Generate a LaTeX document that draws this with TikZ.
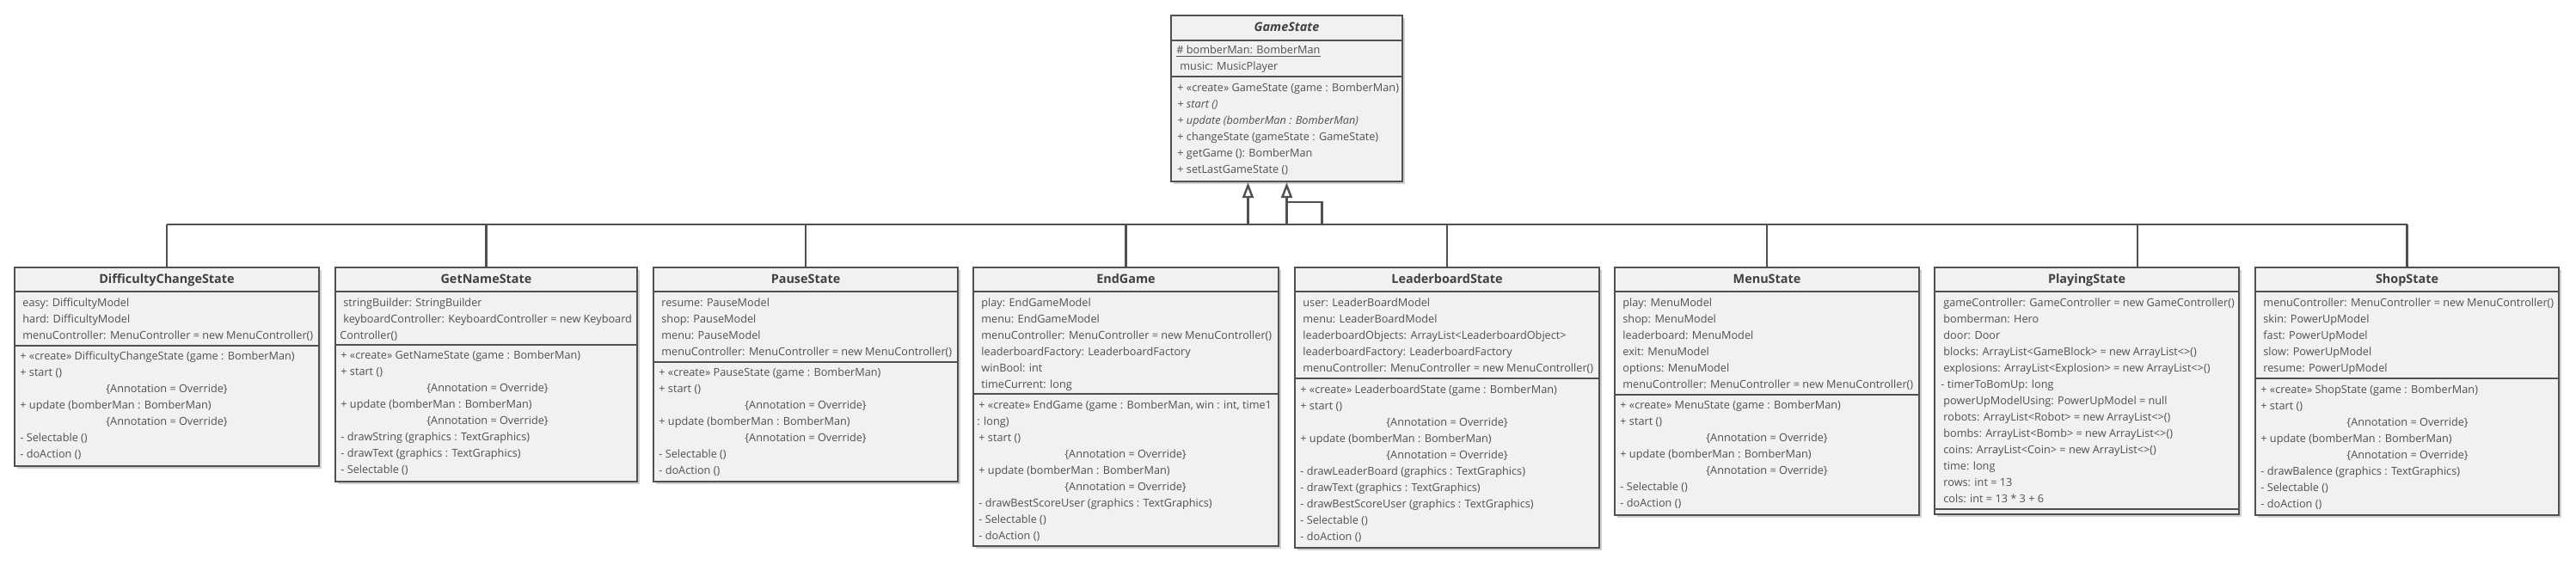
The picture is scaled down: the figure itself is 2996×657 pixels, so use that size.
\documentclass[tikz,border=0pt]{standalone}
\usepackage{fontspec}
\setmainfont{Open Sans}
\usetikzlibrary{arrows.meta,shadows,fit}
\definecolor{boxfill}{HTML}{F1F1F1}
\definecolor{boxline}{HTML}{505050}
\definecolor{txtc}{HTML}{505050}
\definecolor{ttlc}{HTML}{404040}
\newcommand\ann{\hspace*{50pt}\{Annotation = Override\}}
\newcommand\txtlines[4]{%
  \foreach \t [count=\i from 0] in {#4}
    \node[txt] (#1\i) at ({#2},{#3+4.5+19*\i}) {\t};}
\newcommand\classbox[6]{%
  \node[cls, fit={(#2,311) (#3,#4)}] (#1) {};
  \draw[sepl] (#2,339) -- (#3,339) (#2,#5) -- (#3,#5);
  \node[ttl] (#1t) at ({(#2+#3)/2},330) {#6};}
\tikzset{
  cls/.style={draw=boxline, line width=1.2pt, fill=boxfill, inner sep=0pt,
    drop shadow={shadow xshift=1.6pt, shadow yshift=-1.6pt, opacity=0.18, fill=black}},
  sepl/.style={draw=boxline, line width=1.2pt},
  txt/.style={anchor=base west, inner sep=0pt, text=txtc, font=\fontsize{6.35pt}{9.5pt}\selectfont},
  ttl/.style={anchor=base, inner sep=0pt, text=ttlc, font=\bfseries\fontsize{7.2pt}{9pt}\selectfont},
  conn/.style={draw=boxline, line width=1.2pt},
  gen/.style={conn, -{Triangle[length=9pt,width=6.5pt,fill=white]}}
}
\begin{document}
\begin{tikzpicture}[x=0.5pt,y=-0.5pt]
\useasboundingbox (0,0) rectangle (2996,657);
\fill[white] (0,0) rectangle (2996,657);
% GameState
\node[cls, fit={(1362,18) (1631,211)}] (gs) {};
\draw[sepl] (1362,47) -- (1631,47) (1362,89) -- (1631,89);
\node[ttl, font=\bfseries\itshape\fontsize{7.2pt}{9pt}\selectfont] (gst) at (1496.5,37) {GameState};
\node[txt] (gsa0) at (1368,62.5) {\underline{\# bomberMan: BomberMan}};
\node[txt] (gsa1) at (1372,81.5) {music: MusicPlayer};
\txtlines{gsm}{1369}{102}{{+ «create» GameState (game : BomberMan)},{\itshape + start ()},{\itshape + update (bomberMan : BomberMan)},{+ changeState (gameState : GameState)},{+ getGame (): BomberMan},{+ setLastGameState ()}}
% DifficultyChangeState
\classbox{dcs}{17}{371}{542}{402}{DifficultyChangeState}
\txtlines{dcsa}{26}{352}{{easy: DifficultyModel},{hard: DifficultyModel},{menuController: MenuController = new MenuController()}}
\txtlines{dcsm}{23}{414}{{+ «create» DifficultyChangeState (game : BomberMan)},{+ start ()},{\ann},{+ update (bomberMan : BomberMan)},{\ann},{- Selectable ()},{- doAction ()}}
% GetNameState
\classbox{gns}{390}{741}{560}{401}{GetNameState}
\txtlines{gnsa}{399}{352}{{stringBuilder: StringBuilder},{keyboardController: KeyboardController = new Keyboard},{\hspace*{-2pt}Controller()}}
\txtlines{gnsm}{396}{413}{{+ «create» GetNameState (game : BomberMan)},{+ start ()},{\ann},{+ update (bomberMan : BomberMan)},{\ann},{- drawString (graphics : TextGraphics)},{- drawText (graphics : TextGraphics)},{- Selectable ()}}
% PauseState
\classbox{pse}{760}{1114}{560}{421}{PauseState}
\txtlines{psea}{769}{352}{{resume: PauseModel},{shop: PauseModel},{menu: PauseModel},{menuController: MenuController = new MenuController()}}
\txtlines{psem}{766}{433}{{+ «create» PauseState (game : BomberMan)},{+ start ()},{\ann},{+ update (bomberMan : BomberMan)},{\ann},{- Selectable ()},{- doAction ()}}
% EndGame
\classbox{eg}{1132}{1487}{635}{458}{EndGame}
\txtlines{ega}{1141}{352}{{play: EndGameModel},{menu: EndGameModel},{menuController: MenuController = new MenuController()},{leaderboardFactory: LeaderboardFactory},{winBool: int},{timeCurrent: long}}
\txtlines{egm}{1138}{471}{{+ «create» EndGame (game : BomberMan, win : int, time1},{\hspace*{-1pt}: long)},{+ start ()},{\ann},{+ update (bomberMan : BomberMan)},{\ann},{- drawBestScoreUser (graphics : TextGraphics)},{- Selectable ()},{- doAction ()}}
% LeaderboardState
\classbox{lbs}{1506}{1860}{637}{440}{LeaderboardState}
\txtlines{lbsa}{1515}{352}{{user: LeaderBoardModel},{menu: LeaderBoardModel},{leaderboardObjects: ArrayList<LeaderboardObject>},{leaderboardFactory: LeaderboardFactory},{menuController: MenuController = new MenuController()}}
\txtlines{lbsm}{1512}{453}{{+ «create» LeaderboardState (game : BomberMan)},{+ start ()},{\ann},{+ update (bomberMan : BomberMan)},{\ann},{- drawLeaderBoard (graphics : TextGraphics)},{- drawText (graphics : TextGraphics)},{- drawBestScoreUser (graphics : TextGraphics)},{- Selectable ()},{- doAction ()}}
% MenuState
\classbox{mns}{1878}{2232}{599}{459}{MenuState}
\txtlines{mnsa}{1887}{352}{{play: MenuModel},{shop: MenuModel},{leaderboard: MenuModel},{exit: MenuModel},{options: MenuModel},{menuController: MenuController = new MenuController()}}
\txtlines{mnsm}{1884}{471}{{+ «create» MenuState (game : BomberMan)},{+ start ()},{\ann},{+ update (bomberMan : BomberMan)},{\ann},{- Selectable ()},{- doAction ()}}
% PlayingState
\classbox{pls}{2250}{2604}{598}{592}{PlayingState}
\txtlines{plsa}{2260}{352}{{gameController: GameController = new GameController()},{bomberman: Hero},{door: Door},{blocks: ArrayList<GameBlock> = new ArrayList<>()},{explosions: ArrayList<Explosion> = new ArrayList<>()},{\hspace*{-1.5pt}- timerToBomUp: long},{powerUpModelUsing: PowerUpModel = null},{robots: ArrayList<Robot> = new ArrayList<>()},{bombs: ArrayList<Bomb> = new ArrayList<>()},{coins: ArrayList<Coin> = new ArrayList<>()},{time: long},{rows: int = 13},{cols: int = 13 * 3 + 6}}
% ShopState
\classbox{shs}{2623}{2976}{599}{440}{ShopState}
\txtlines{shsa}{2632}{352}{{menuController: MenuController = new MenuController()},{skin: PowerUpModel},{fast: PowerUpModel},{slow: PowerUpModel},{resume: PowerUpModel}}
\txtlines{shsm}{2629}{453}{{+ «create» ShopState (game : BomberMan)},{+ start ()},{\ann},{+ update (bomberMan : BomberMan)},{\ann},{- drawBalence (graphics : TextGraphics)},{- Selectable ()},{- doAction ()}}
% connectors
\coordinate (bus) at (0,261);
\coordinate (jy) at (0,235);
\coordinate (a1) at ([xshift=-22.5pt]gs.south);
\coordinate (j1) at ([xshift=20.5pt]gs.south);
\coordinate (plc) at ([xshift=29.5pt]pls.north);
\draw[conn] (dcs.north |- bus) -- (shs.north |- bus);
\foreach \n in {dcs,gns,pse,eg,lbs,mns,shs}
  \draw[conn] (\n.north) -- (\n.north |- bus);
\draw[conn] (plc) -- (plc |- bus);
\draw[gen] (a1 |- bus) -- (a1);
\draw[gen] (gs.south |- bus) -- (gs.south);
\draw[conn] (j1 |- bus) -- (j1 |- jy) -- (gs.south |- jy);
\end{tikzpicture}
\end{document}
